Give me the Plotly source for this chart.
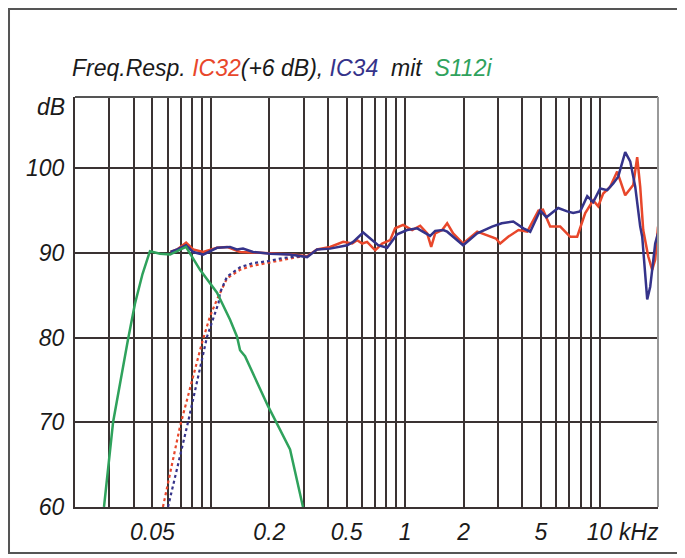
import math
import plotly.graph_objects as go

# ---- data (frequency in kHz, level in dB) ----
ic32_f = [0.062, 0.0671, 0.0746, 0.0811, 0.0913, 0.1076, 0.1212, 0.1414, 0.179, 0.219, 0.265, 0.313,
          0.352, 0.411, 0.48, 0.534, 0.566, 0.602, 0.637, 0.701, 0.761, 0.837, 0.888, 0.976, 1.086,
          1.195, 1.298, 1.361, 1.427, 1.55, 1.645, 1.766, 1.988, 2.348, 2.61, 2.93, 3.083, 3.39, 3.83,
          4.25, 4.85, 5.12, 5.576, 6.278, 7.07, 7.676, 8.445, 9.281, 9.847, 10.45, 11.35, 12.33, 13.56,
          14.39, 14.91, 15.63, 16.2, 16.79, 17.81, 18.67, 19.35, 20.0]
ic32_db = [90.1, 90.4, 91.2, 90.4, 90.1, 90.6, 90.7, 90.1, 90.0, 89.9, 89.8, 89.6,
           90.4, 90.7, 91.3, 91.1, 91.5, 91.1, 91.3, 90.3, 91.1, 91.5, 92.9, 93.3, 92.7,
           93.2, 92.3, 90.7, 92.3, 92.7, 93.5, 92.3, 91.1, 92.5, 92.1, 91.7, 91.1, 91.9, 92.7,
           92.5, 95.0, 95.1, 93.1, 93.1, 91.9, 91.9, 94.7, 96.2, 95.5, 97.0, 97.8, 99.6, 96.8,
           97.5, 98.0, 101.3, 97.8, 92.7, 89.6, 88.0, 89.2, 93.1]

ic34_f = [0.062, 0.0671, 0.0746, 0.0811, 0.0913, 0.1076, 0.1256, 0.136, 0.1464, 0.165, 0.2017, 0.2557,
          0.313, 0.352, 0.411, 0.503, 0.54, 0.608, 0.661, 0.726, 0.808, 0.909, 1.024, 1.153, 1.345,
          1.427, 1.569, 1.645, 1.988, 2.348, 2.80, 3.14, 3.60, 4.06, 4.40, 4.95, 5.33,
          6.13, 6.822, 7.32, 7.957, 8.647, 9.281, 10.08, 10.96, 11.77, 12.48, 13.56, 14.39, 15.27,
          16.2, 16.59, 17.6, 18.24, 19.35, 20.0]
ic34_db = [90.1, 90.4, 90.9, 90.1, 89.8, 90.6, 90.7, 90.4, 90.5, 90.1, 89.9, 89.8,
           89.5, 90.4, 90.5, 90.9, 91.3, 92.4, 91.7, 90.9, 90.6, 92.2, 92.7, 92.9, 92.0,
           92.6, 92.7, 92.5, 90.9, 92.3, 93.1, 93.5, 93.7, 92.9, 92.5, 95.0, 94.2,
           95.3, 94.9, 94.7, 94.9, 96.7, 96.0, 97.6, 97.4, 98.2, 99.0, 101.9, 100.8, 97.8,
           93.1, 91.9, 84.5, 86.0, 91.1, 92.3]

ic32_hp_f = [0.0567, 0.0694, 0.0901, 0.099, 0.1076, 0.1212, 0.1414, 0.159, 0.1946, 0.235, 0.278, 0.313]
ic32_hp_db = [60.0, 69.5, 79.4, 82.5, 84.5, 87.0, 88.0, 88.4, 88.8, 89.2, 89.5, 89.6]

ic34_hp_f = [0.0602, 0.0763, 0.0956, 0.1096, 0.1115, 0.1212, 0.1414, 0.165, 0.1946, 0.235, 0.288, 0.313]
ic34_hp_db = [60.0, 70.0, 80.1, 84.1, 85.3, 87.2, 88.3, 88.8, 89.0, 89.4, 89.6, 89.6]

s112_f = [0.0282, 0.0314, 0.0375, 0.0407, 0.0445, 0.0486, 0.0548, 0.0617, 0.0745, 0.088, 0.1076,
          0.1256, 0.1364, 0.1414, 0.150, 0.197, 0.2557, 0.298]
s112_db = [60.0, 70.0, 79.8, 84.0, 87.5, 90.2, 89.9, 89.8, 90.7, 88.0, 85.3,
           82.1, 80.1, 78.5, 77.8, 71.9, 66.8, 60.0]

grid_f = [0.03, 0.04, 0.05, 0.06, 0.07, 0.08, 0.09, 0.1, 0.2, 0.3, 0.4, 0.5, 0.6, 0.7, 0.8, 0.9,
          1, 2, 3, 4, 5, 6, 7, 8, 9, 10]
label_f = {0.05: "0.05", 0.2: "0.2", 0.5: "0.5", 1: "1", 2: "2", 5: "5", 10: "10"}
y_ticks = [60, 70, 80, 90, 100]

RED = "#e8472b"
BLUE = "#35338a"
GREEN = "#2fa25c"
GRID = "#3a3232"
TXT = "#1a1a1a"
FONT = "Liberation Sans"

fig = go.Figure()
fig.add_trace(go.Scatter(x=ic32_hp_f, y=ic32_hp_db, mode="lines",
                         line=dict(color=RED, width=2.2, dash="dot")))
fig.add_trace(go.Scatter(x=ic34_hp_f, y=ic34_hp_db, mode="lines",
                         line=dict(color=BLUE, width=2.2, dash="dot")))
fig.add_trace(go.Scatter(x=ic32_f, y=ic32_db, mode="lines", line=dict(color=RED, width=2.5)))
fig.add_trace(go.Scatter(x=ic34_f, y=ic34_db, mode="lines", line=dict(color=BLUE, width=2.5)))
fig.add_trace(go.Scatter(x=s112_f, y=s112_db, mode="lines", line=dict(color=GREEN, width=2.5)))

# the page body adds an 8px offset, so the figure is 677x550
fig.update_layout(
    width=677, height=550,
    margin=dict(l=67, r=27, t=89, b=51),
    paper_bgcolor="white", plot_bgcolor="white",
    showlegend=False,
    font=dict(family=FONT, color=TXT),
)
fig.update_xaxes(
    type="log", range=[math.log10(0.02), math.log10(20)],
    tickvals=grid_f, ticktext=[label_f.get(v, "") for v in grid_f],
    showgrid=True, gridcolor=GRID, gridwidth=2,
    showline=True, linecolor=GRID, linewidth=2, mirror=False,
    ticks="", ticklabelstandoff=3,
    tickfont=dict(family=FONT, size=23, style="italic", color=TXT),
    zeroline=False,
)
fig.update_yaxes(
    range=[60, 108.4], tickvals=y_ticks,
    showgrid=True, gridcolor=GRID, gridwidth=2,
    showline=True, linecolor=GRID, linewidth=2, mirror=False,
    ticks="", ticklabelstandoff=4,
    tickfont=dict(family=FONT, size=23, style="italic", color=TXT),
    zeroline=False,
)

# top and right border of plot area
fig.add_shape(type="line", xref="paper", yref="paper", x0=0, x1=1, y0=1, y1=1,
              line=dict(color="#555", width=2))
fig.add_shape(type="line", xref="paper", yref="paper", x0=1, x1=1, y0=0, y1=1,
              line=dict(color="#999", width=2))
# outer frame
fig.add_shape(type="rect", xref="paper", yref="paper", x0=-0.1132, x1=1.0429, y0=-0.1122, y1=1.2146,
              line=dict(color="#555", width=2))

title = ("Freq.Resp. <span style='color:%s'>IC32</span>(+6 dB), "
         "<span style='color:%s'>IC34</span>  mit  <span style='color:%s'>S112i</span>") % (RED, BLUE, GREEN)
fig.add_annotation(text=title, xref="paper", yref="paper", x=-0.008, y=1.07,
                   xanchor="left", yanchor="middle", showarrow=False,
                   font=dict(family=FONT, size=23, style="italic", color=TXT))
fig.add_annotation(text="dB", xref="paper", yref="paper", x=-0.014, y=0.975,
                   xanchor="right", yanchor="middle", showarrow=False,
                   font=dict(family=FONT, size=23, style="italic", color=TXT))
fig.add_annotation(text="kHz", xref="paper", yref="paper", x=0.929, y=-0.061,
                   xanchor="left", yanchor="middle", showarrow=False,
                   font=dict(family=FONT, size=23, style="italic", color=TXT))

fig.write_html("out.html")
